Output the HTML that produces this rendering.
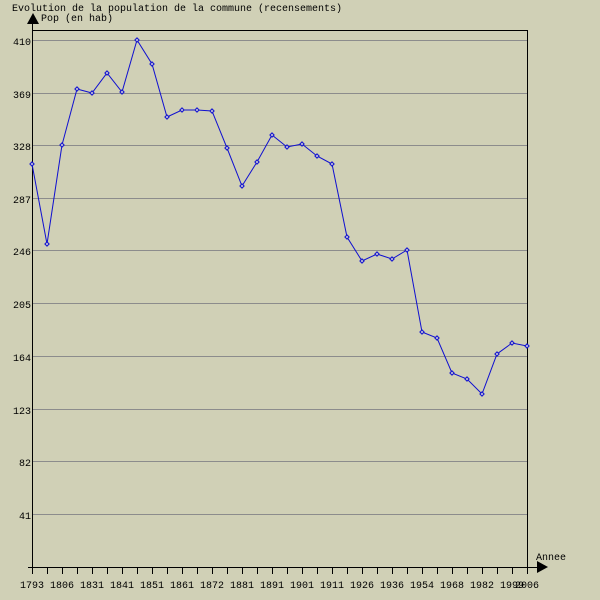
<!DOCTYPE html>
<html><head><meta charset="utf-8"><style>html,body{margin:0;padding:0;background:#d0d0b6}svg{display:block}text{font-family:"Liberation Mono",monospace;font-size:10px;fill:#000}</style></head><body>
<svg width="600" height="600" xmlns="http://www.w3.org/2000/svg">
<rect width="600" height="600" fill="#d0d0b6"/>
<text x="12" y="11">Evolution de la population de la commune (recensements)</text>
<text x="41" y="21">Pop (en hab)</text>
<polygon points="27,24 33,13 39,24" fill="#000"/>
<g stroke="#8c8c8c" stroke-width="1">
<line x1="32" y1="40.5" x2="527" y2="40.5"/><line x1="32" y1="93.5" x2="527" y2="93.5"/><line x1="32" y1="145.5" x2="527" y2="145.5"/><line x1="32" y1="198.5" x2="527" y2="198.5"/><line x1="32" y1="250.5" x2="527" y2="250.5"/><line x1="32" y1="303.5" x2="527" y2="303.5"/><line x1="32" y1="356.5" x2="527" y2="356.5"/><line x1="32" y1="409.5" x2="527" y2="409.5"/><line x1="32" y1="461.5" x2="527" y2="461.5"/><line x1="32" y1="514.5" x2="527" y2="514.5"/>
</g>
<g text-anchor="end"><text x="31" y="45">410</text><text x="31" y="98">369</text><text x="31" y="150">328</text><text x="31" y="203">287</text><text x="31" y="255">246</text><text x="31" y="308">205</text><text x="31" y="361">164</text><text x="31" y="414">123</text><text x="31" y="466">82</text><text x="31" y="519">41</text></g>
<g stroke="#000" stroke-width="1" fill="none">
<line x1="32.5" y1="24" x2="32.5" y2="567"/><line x1="32" y1="30.5" x2="527" y2="30.5"/><line x1="527.5" y1="30" x2="527.5" y2="574"/><line x1="28" y1="567.5" x2="540" y2="567.5"/>
<path d="M32.5 567v7M47.5 567v7M62.5 567v7M77.5 567v7M92.5 567v7M107.5 567v7M122.5 567v7M137.5 567v7M152.5 567v7M167.5 567v7M182.5 567v7M197.5 567v7M212.5 567v7M227.5 567v7M242.5 567v7M257.5 567v7M272.5 567v7M287.5 567v7M302.5 567v7M317.5 567v7M332.5 567v7M347.5 567v7M362.5 567v7M377.5 567v7M392.5 567v7M407.5 567v7M422.5 567v7M437.5 567v7M452.5 567v7M467.5 567v7M482.5 567v7M497.5 567v7M512.5 567v7"/>
</g>
<polygon points="537,561 548,567 537,573" fill="#000"/>
<text x="536" y="560">Annee</text>
<g text-anchor="middle"><text x="32" y="588">1793</text><text x="62" y="588">1806</text><text x="92" y="588">1831</text><text x="122" y="588">1841</text><text x="152" y="588">1851</text><text x="182" y="588">1861</text><text x="212" y="588">1872</text><text x="242" y="588">1881</text><text x="272" y="588">1891</text><text x="302" y="588">1901</text><text x="332" y="588">1911</text><text x="362" y="588">1926</text><text x="392" y="588">1936</text><text x="422" y="588">1954</text><text x="452" y="588">1968</text><text x="482" y="588">1982</text><text x="512" y="588">1999</text><text x="527" y="588">2006</text></g>
<polyline fill="none" stroke="#1010d0" stroke-width="1" points="32,164 47,244 62,145 77,89 92,93 107,73 122,92 137,40 152,64 167,117 182,110 197,110 212,111 227,148 242,186 257,162 272,135 287,147 302,144 317,156 332,164 347,237 362,261 377,254 392,259 407,250 422,332 437,338 452,373 467,379 482,394 497,354 512,343 527,346"/>
<g fill="#c8c8d8" stroke="#1010d0" stroke-width="1">
<rect x="30.5" y="162.5" width="3" height="3" transform="rotate(45 32 164)"/><rect x="45.5" y="242.5" width="3" height="3" transform="rotate(45 47 244)"/><rect x="60.5" y="143.5" width="3" height="3" transform="rotate(45 62 145)"/><rect x="75.5" y="87.5" width="3" height="3" transform="rotate(45 77 89)"/><rect x="90.5" y="91.5" width="3" height="3" transform="rotate(45 92 93)"/><rect x="105.5" y="71.5" width="3" height="3" transform="rotate(45 107 73)"/><rect x="120.5" y="90.5" width="3" height="3" transform="rotate(45 122 92)"/><rect x="135.5" y="38.5" width="3" height="3" transform="rotate(45 137 40)"/><rect x="150.5" y="62.5" width="3" height="3" transform="rotate(45 152 64)"/><rect x="165.5" y="115.5" width="3" height="3" transform="rotate(45 167 117)"/><rect x="180.5" y="108.5" width="3" height="3" transform="rotate(45 182 110)"/><rect x="195.5" y="108.5" width="3" height="3" transform="rotate(45 197 110)"/><rect x="210.5" y="109.5" width="3" height="3" transform="rotate(45 212 111)"/><rect x="225.5" y="146.5" width="3" height="3" transform="rotate(45 227 148)"/><rect x="240.5" y="184.5" width="3" height="3" transform="rotate(45 242 186)"/><rect x="255.5" y="160.5" width="3" height="3" transform="rotate(45 257 162)"/><rect x="270.5" y="133.5" width="3" height="3" transform="rotate(45 272 135)"/><rect x="285.5" y="145.5" width="3" height="3" transform="rotate(45 287 147)"/><rect x="300.5" y="142.5" width="3" height="3" transform="rotate(45 302 144)"/><rect x="315.5" y="154.5" width="3" height="3" transform="rotate(45 317 156)"/><rect x="330.5" y="162.5" width="3" height="3" transform="rotate(45 332 164)"/><rect x="345.5" y="235.5" width="3" height="3" transform="rotate(45 347 237)"/><rect x="360.5" y="259.5" width="3" height="3" transform="rotate(45 362 261)"/><rect x="375.5" y="252.5" width="3" height="3" transform="rotate(45 377 254)"/><rect x="390.5" y="257.5" width="3" height="3" transform="rotate(45 392 259)"/><rect x="405.5" y="248.5" width="3" height="3" transform="rotate(45 407 250)"/><rect x="420.5" y="330.5" width="3" height="3" transform="rotate(45 422 332)"/><rect x="435.5" y="336.5" width="3" height="3" transform="rotate(45 437 338)"/><rect x="450.5" y="371.5" width="3" height="3" transform="rotate(45 452 373)"/><rect x="465.5" y="377.5" width="3" height="3" transform="rotate(45 467 379)"/><rect x="480.5" y="392.5" width="3" height="3" transform="rotate(45 482 394)"/><rect x="495.5" y="352.5" width="3" height="3" transform="rotate(45 497 354)"/><rect x="510.5" y="341.5" width="3" height="3" transform="rotate(45 512 343)"/><rect x="525.5" y="344.5" width="3" height="3" transform="rotate(45 527 346)"/>
</g>
</svg>
</body></html>
